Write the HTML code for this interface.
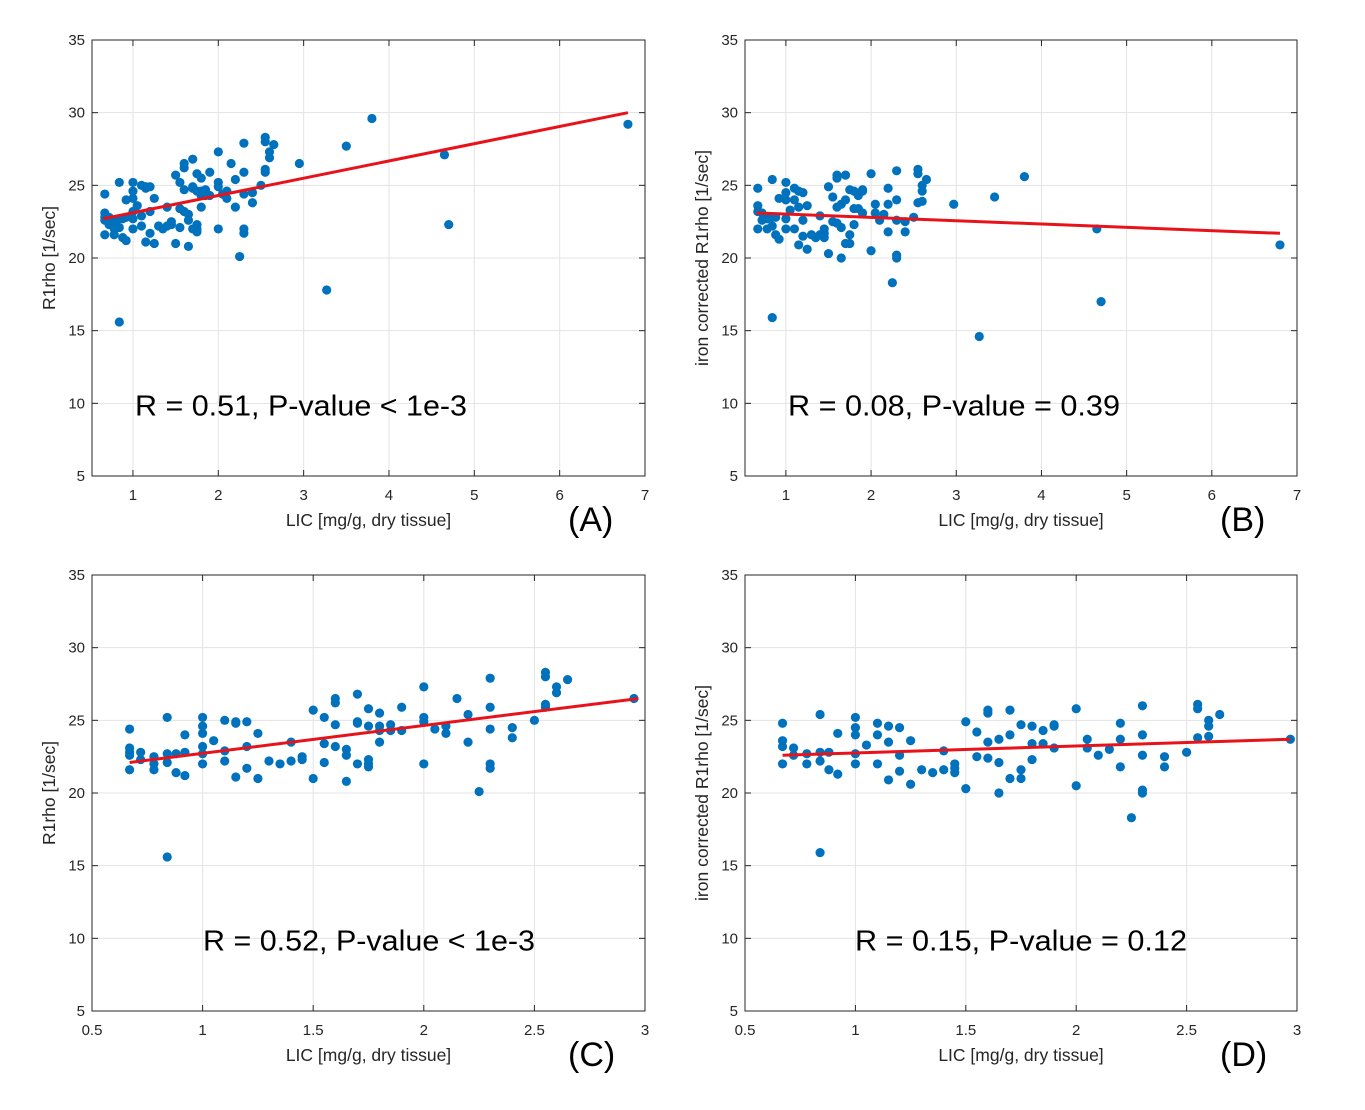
<!DOCTYPE html>
<html><head><meta charset="utf-8"><style>
body{margin:0;background:#fff;}
svg{display:block;font-family:"Liberation Sans",Arial,sans-serif;}
</style></head><body>
<svg id="fig" width="1365" height="1110" viewBox="0 0 1365 1110"></svg>
<script>
// Panel A/C data: LIC vs R1rho
const licA = [0.67,0.67,0.67,0.67,0.67,0.72,0.72,0.78,0.78,0.78,0.84,0.84,0.84,0.84,0.88,0.88,0.92,0.92,0.92,1.0,1.0,1.0,1.0,1.0,1.0,1.05,1.1,1.1,1.1,1.15,1.15,1.15,1.2,1.2,1.2,1.25,1.25,1.3,1.35,1.4,1.4,1.45,1.45,1.5,1.5,1.55,1.55,1.55,1.6,1.6,1.6,1.6,1.65,1.65,1.65,1.7,1.7,1.7,1.7,1.75,1.75,1.75,1.75,1.75,1.8,1.8,1.8,1.8,1.85,1.85,1.9,1.9,2.0,2.0,2.0,2.0,2.05,2.1,2.1,2.15,2.2,2.2,2.25,2.3,2.3,2.3,2.3,2.3,2.4,2.4,2.5,2.55,2.55,2.55,2.55,2.6,2.6,2.65,2.95,3.27,3.5,3.8,4.65,4.7,6.8];
const r1rho = [24.4,23.1,22.8,22.6,21.6,22.8,22.3,22.0,21.6,22.5,25.2,22.7,22.1,15.6,22.7,21.4,21.2,22.8,24.0,25.2,24.6,24.1,23.2,22.7,22.0,23.6,22.9,25.0,22.2,21.1,24.9,24.8,24.9,23.2,21.7,21.0,24.1,22.2,22.0,23.5,22.2,22.5,22.3,25.7,21.0,25.2,23.4,22.1,26.2,26.5,24.7,23.2,20.8,23.0,22.6,24.9,26.8,22.0,24.8,21.8,22.0,22.3,24.6,25.8,23.5,25.5,24.3,24.6,24.7,24.3,25.9,24.3,27.3,22.0,25.2,24.9,24.4,24.1,24.6,26.5,25.4,23.5,20.1,24.4,27.9,25.9,21.7,22.0,24.5,23.8,25.0,28.0,28.3,25.9,26.1,26.9,27.3,27.8,26.5,17.8,27.7,29.6,27.1,22.3,29.2];
// Panel B/D data: LIC vs iron corrected R1rho
const licB = [0.67,0.67,0.67,0.67,0.72,0.72,0.78,0.78,0.84,0.84,0.84,0.84,0.88,0.88,0.92,0.92,1.0,1.0,1.0,1.0,1.0,1.05,1.1,1.1,1.1,1.15,1.15,1.15,1.2,1.2,1.2,1.25,1.25,1.3,1.35,1.4,1.4,1.45,1.45,1.45,1.5,1.5,1.55,1.55,1.6,1.6,1.6,1.6,1.65,1.65,1.65,1.7,1.7,1.7,1.75,1.75,1.75,1.8,1.8,1.8,1.85,1.85,1.9,1.9,1.9,2.0,2.0,2.05,2.05,2.1,2.15,2.2,2.2,2.2,2.25,2.3,2.3,2.3,2.3,2.3,2.4,2.4,2.5,2.55,2.55,2.55,2.6,2.6,2.6,2.65,2.97,3.27,3.45,3.8,4.65,4.7,6.8];
const r1rhoCorr = [24.8,23.6,23.2,22.0,23.1,22.6,22.7,22.0,25.4,22.8,22.2,15.9,21.6,22.8,21.3,24.1,25.2,24.5,24.0,22.7,22.0,23.3,24.8,22.0,24.0,24.6,20.9,23.5,24.5,21.5,22.6,20.6,23.6,21.6,21.4,22.9,21.6,21.7,22.0,21.4,24.9,20.3,22.5,24.2,25.5,25.7,23.5,22.4,22.1,20.0,23.7,25.7,24.0,21.0,21.0,21.6,24.7,22.3,24.6,23.4,24.3,23.4,23.1,24.6,24.7,25.8,20.5,23.7,23.1,22.6,23.0,24.8,21.8,23.7,18.3,24.0,26.0,20.0,20.2,22.6,22.5,21.8,22.8,25.8,26.1,23.8,24.6,25.0,23.9,25.4,23.7,14.6,24.2,25.6,22.0,17.0,20.9];
// fit lines: [x0, y0, x1, y1]
const fitA = [0.65,22.7,6.8,30.0];
const fitB = [0.65,23.1,6.8,21.7];
const fitC = [0.67,22.1,2.97,26.5];
const fitD = [0.67,22.6,2.97,23.7];
const xTicksAB = [1,2,3,4,5,6,7];
const xTicksCD = [0.5,1,1.5,2,2.5,3];
const yTicks = [5,10,15,20,25,30,35];

const NS="http://www.w3.org/2000/svg";
const svg=document.getElementById('fig');
function mk(tag,attrs,parent){const e=document.createElementNS(NS,tag);for(const k in attrs)e.setAttribute(k,attrs[k]);(parent||svg).appendChild(e);return e;}

function panel(id,L,T,R,B,xmin,xmax,xt,xs,ys,fit,ylabel,note,noteX,letter,letterX){
  const g=mk('g',{});
  
  
  const X=v=>L+(v-xmin)/(xmax-xmin)*(R-L);
  const Y=v=>B-(v-5)/30*(B-T);
  mk('rect',{x:L,y:T,width:R-L,height:B-T,fill:'#fff'},g);
  xt.forEach(t=>{const x=X(t);
    const gl=mk('line',{x1:x,x2:x,y1:T,y2:B,stroke:'#e3e3e3','stroke-width':1},g);
    
    mk('line',{x1:x,x2:x,y1:B,y2:B-6,stroke:'#262626'},g);
    mk('line',{x1:x,x2:x,y1:T,y2:T+6,stroke:'#262626'},g);
    const tx=mk('text',{x:x,y:B+24,'font-size':15,fill:'#262626','text-anchor':'middle'},g);tx.textContent=t;
    
  });
  yTicks.forEach(t=>{const y=Y(t);
    const gl=mk('line',{x1:L,x2:R,y1:y,y2:y,stroke:'#e3e3e3','stroke-width':1},g);
    
    mk('line',{x1:L,x2:L+6,y1:y,y2:y,stroke:'#262626'},g);
    mk('line',{x1:R,x2:R-6,y1:y,y2:y,stroke:'#262626'},g);
    const tx=mk('text',{x:L-7,y:y+5,'font-size':15,fill:'#262626','text-anchor':'end'},g);tx.textContent=t;
    
  });
  const box=mk('rect',{x:L,y:T,width:R-L,height:B-T,fill:'none',stroke:'#262626','stroke-width':1},g);
  
  xs.forEach((v,i)=>{if(v<xmin||v>xmax)return;
    const c=mk('circle',{cx:X(v),cy:Y(ys[i]),r:4.6,fill:'#0072BD'},g);
    
  });
  const ln=mk('line',{x1:X(fit[0]),y1:Y(fit[1]),x2:X(fit[2]),y2:Y(fit[3]),stroke:'#e8121a','stroke-width':3},g);
  
  const xl=mk('text',{x:(L+R)/2-witdhFix(),y:B+50,'font-size':17.5,fill:'#262626','text-anchor':'middle'},g);xl.textContent='LIC [mg/g, dry tissue]';
  
  const yl=mk('text',{x:0,y:0,'font-size':17.5,fill:'#262626','text-anchor':'middle',transform:`translate(${L-37},${(T+B)/2}) rotate(-90)`},g);yl.textContent=ylabel;
  
  const nt=mk('text',{x:noteX,y:Y(10)+12,'font-size':29,fill:'#000',textLength:332,lengthAdjust:'spacingAndGlyphs'},g);nt.textContent=note;
  
  const lt=mk('text',{x:letterX,y:B+55,'font-size':34,fill:'#000'},g);lt.textContent=letter;
  
}
function witdhFix(){return 0;}
panel('a',92,40,645,476,0.52,7,xTicksAB,licA,r1rho,fitA,'R1rho [1/sec]','R = 0.51, P-value < 1e-3',135,'(A)',568);
panel('b',745,40,1297,476,0.52,7,xTicksAB,licB,r1rhoCorr,fitB,'iron corrected R1rho [1/sec]','R = 0.08, P-value = 0.39',788,'(B)',1220);
panel('c',92,575,645,1011,0.5,3,xTicksCD,licA,r1rho,fitC,'R1rho [1/sec]','R = 0.52, P-value < 1e-3',203,'(C)',568);
panel('d',745,575,1297,1011,0.5,3,xTicksCD,licB,r1rhoCorr,fitD,'iron corrected R1rho [1/sec]','R = 0.15, P-value = 0.12',855,'(D)',1220);
</script>
</body></html>
